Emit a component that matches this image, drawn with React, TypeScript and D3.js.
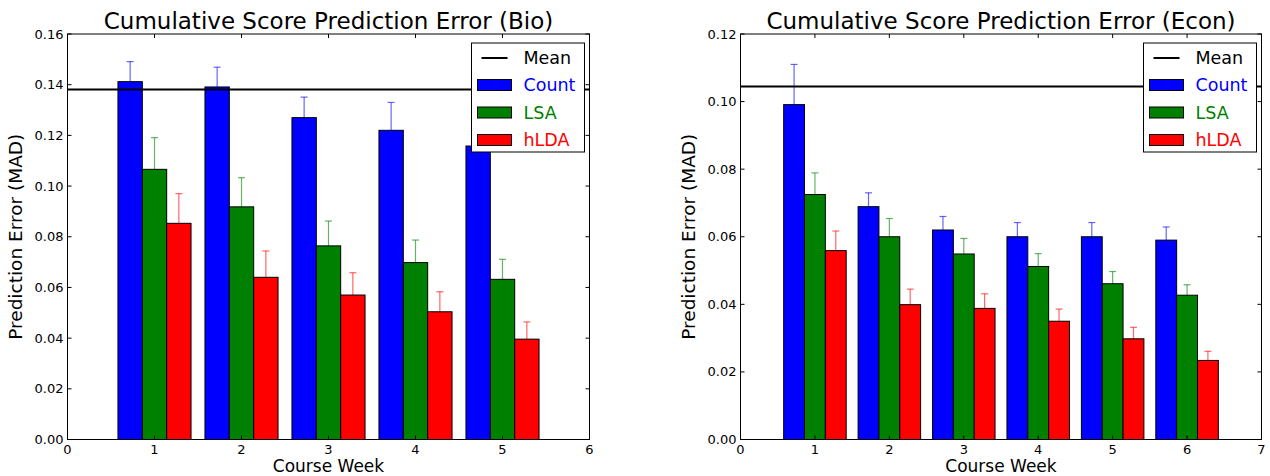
import React from "react";
import * as d3 from "d3";

const seriesNames = ["Count", "LSA", "hLDA"];
const seriesColors = ["#0000ff", "#008000", "#ff0000"];

const bioWeeks = [1, 2, 3, 4, 5];
const bioCount = [0.1412, 0.1391, 0.127, 0.122, 0.1158];
const bioCountErr = [0.0079, 0.0078, 0.0081, 0.011, 0.008];
const bioLSA = [0.1066, 0.0918, 0.0764, 0.0698, 0.0632];
const bioLSAErr = [0.0125, 0.0115, 0.0098, 0.0089, 0.0079];
const bioHLDA = [0.0853, 0.064, 0.057, 0.0504, 0.0396];
const bioHLDAErr = [0.0117, 0.0104, 0.0088, 0.0079, 0.0068];
const bioMean = 0.1381;
const bioXTicks = [0, 1, 2, 3, 4, 5, 6];
const bioYTicks = [0, 0.02, 0.04, 0.06, 0.08, 0.1, 0.12, 0.14, 0.16];

const econWeeks = [1, 2, 3, 4, 5, 6];
const econCount = [0.0991, 0.0689, 0.062, 0.06, 0.06, 0.059];
const econCountErr = [0.0119, 0.0041, 0.004, 0.0042, 0.0042, 0.0039];
const econLSA = [0.0725, 0.06, 0.0549, 0.0512, 0.0461, 0.0427];
const econLSAErr = [0.0064, 0.0054, 0.0046, 0.0038, 0.0036, 0.0031];
const econHLDA = [0.0559, 0.0399, 0.0388, 0.035, 0.0298, 0.0234];
const econHLDAErr = [0.0058, 0.0046, 0.0043, 0.0036, 0.0034, 0.0027];
const econMean = 0.1045;
const econXTicks = [0, 1, 2, 3, 4, 5, 6, 7];
const econYTicks = [0, 0.02, 0.04, 0.06, 0.08, 0.1, 0.12];

const FONT = "'DejaVu Sans', sans-serif";
const BAR_W = 0.28;

type PanelProps = {
  title: string;
  left: number;
  right: number;
  top: number;
  bottom: number;
  weeks: number[];
  values: number[][];
  errors: number[][];
  mean: number;
  xTicks: number[];
  yTicks: number[];
  xMax: number;
  yMax: number;
};

function Panel(p: PanelProps) {
  const x = d3.scaleLinear().domain([0, p.xMax]).range([p.left, p.right]);
  const y = d3.scaleLinear().domain([0, p.yMax]).range([p.bottom, p.top]);
  const fmt = d3.format(".2f");
  const tl = 4;
  const cx = (p.left + p.right) / 2;
  const cy = (p.top + p.bottom) / 2;
  const legL = p.right - 118;
  const legT = p.top + 9;
  const legRows = [legT + 15, legT + 42, legT + 69.5, legT + 97];

  return (
    <g>
      {p.values.map((vals, si) =>
        vals.map((v, i) => {
          const x0 = x(p.weeks[i] - 1.5 * BAR_W + si * BAR_W);
          const x1 = x(p.weeks[i] - 1.5 * BAR_W + (si + 1) * BAR_W);
          const xc = (x0 + x1) / 2;
          const yTop = y(v + p.errors[si][i]);
          return (
            <g key={`b${si}-${i}`}>
              <line x1={xc} x2={xc} y1={y(v)} y2={yTop} stroke={seriesColors[si]} strokeOpacity={0.6} strokeWidth={1.2} />
              <line x1={xc - 3.5} x2={xc + 3.5} y1={yTop} y2={yTop} stroke={seriesColors[si]} strokeOpacity={0.6} strokeWidth={1.2} />
              <rect x={x0} y={y(v)} width={x1 - x0} height={y(0) - y(v)} fill={seriesColors[si]} stroke="#000" strokeWidth={1} />
            </g>
          );
        })
      )}
      <line x1={p.left} x2={p.right} y1={y(p.mean)} y2={y(p.mean)} stroke="#000" strokeWidth={2} />
      <rect x={p.left} y={p.top} width={p.right - p.left} height={p.bottom - p.top} fill="none" stroke="#000" strokeWidth={1} />
      {p.xTicks.map((t) => (
        <g key={`xt${t}`}>
          <line x1={x(t)} x2={x(t)} y1={p.bottom} y2={p.bottom - tl} stroke="#000" />
          <line x1={x(t)} x2={x(t)} y1={p.top} y2={p.top + tl} stroke="#000" />
          <text x={x(t)} y={p.bottom + 14} textAnchor="middle" fontSize={13} fontFamily={FONT}>{t}</text>
        </g>
      ))}
      {p.yTicks.map((t) => (
        <g key={`yt${t}`}>
          <line x1={p.left} x2={p.left + tl} y1={y(t)} y2={y(t)} stroke="#000" />
          <line x1={p.right} x2={p.right - tl} y1={y(t)} y2={y(t)} stroke="#000" />
          <text x={p.left - 4} y={y(t)} dy="0.35em" textAnchor="end" fontSize={13} fontFamily={FONT}>{fmt(t)}</text>
        </g>
      ))}
      <text x={cx} y={p.top - 5} textAnchor="middle" fontSize={23} fontFamily={FONT}>{p.title}</text>
      <text x={cx} y={p.bottom + 32.5} textAnchor="middle" fontSize={17} fontFamily={FONT}>Course Week</text>
      <text transform={`translate(${p.left - 46},${cy}) rotate(-90)`} textAnchor="middle" fontSize={18.5} fontFamily={FONT}>Prediction Error (MAD)</text>
      <rect x={legL} y={legT} width={113} height={109} fill="#fff" stroke="#000" strokeWidth={1} />
      <line x1={legL + 10} x2={legL + 36} y1={legRows[0]} y2={legRows[0]} stroke="#000" strokeWidth={2} />
      <text x={legL + 52} y={legRows[0]} dy="0.35em" fontSize={17.5} fontFamily={FONT} fill="#000">Mean</text>
      {seriesNames.map((n, si) => (
        <g key={`lg${n}`}>
          <rect x={legL + 6} y={legRows[si + 1] - 5.5} width={34} height={11} fill={seriesColors[si]} stroke="#000" strokeWidth={1} />
          <text x={legL + 52} y={legRows[si + 1]} dy="0.35em" fontSize={17.5} fontFamily={FONT} fill={seriesColors[si]}>{n}</text>
        </g>
      ))}
    </g>
  );
}

export default function App() {
  return (
    <svg width={1270} height={476} style={{ position: "absolute", left: 0, top: 0, display: "block", background: "#fff" }}>
      <rect x={0} y={0} width={1270} height={476} fill="#fff" />
      <Panel
        title="Cumulative Score Prediction Error (Bio)"
        left={67.5}
        right={589.5}
        top={34}
        bottom={439.5}
        weeks={bioWeeks}
        values={[bioCount, bioLSA, bioHLDA]}
        errors={[bioCountErr, bioLSAErr, bioHLDAErr]}
        mean={bioMean}
        xTicks={bioXTicks}
        yTicks={bioYTicks}
        xMax={6}
        yMax={0.16}
      />
      <Panel
        title="Cumulative Score Prediction Error (Econ)"
        left={740.5}
        right={1261.5}
        top={34}
        bottom={439.5}
        weeks={econWeeks}
        values={[econCount, econLSA, econHLDA]}
        errors={[econCountErr, econLSAErr, econHLDAErr]}
        mean={econMean}
        xTicks={econXTicks}
        yTicks={econYTicks}
        xMax={7}
        yMax={0.12}
      />
    </svg>
  );
}
